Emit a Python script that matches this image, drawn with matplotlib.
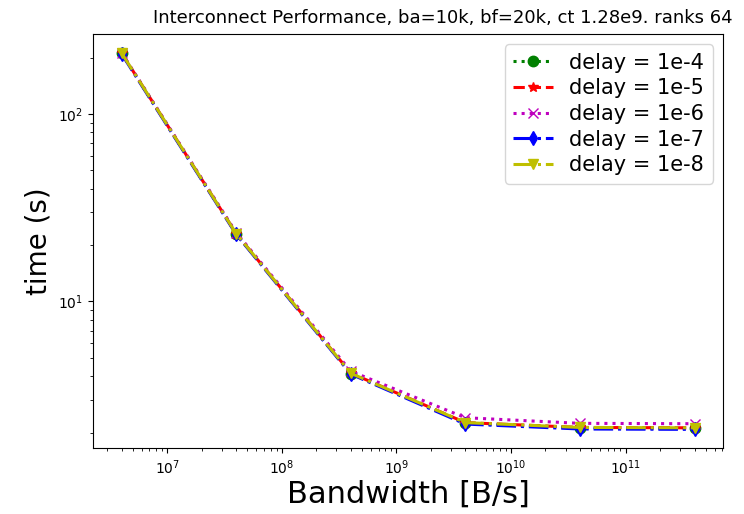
import matplotlib
matplotlib.use("Agg")
import matplotlib.pyplot as plt

bandwidth = [4e6, 4e7, 4e8, 4e9, 4e10, 4e11]

delays = ["1e-4", "1e-5", "1e-6", "1e-7", "1e-8"]
t_1e4 = [211, 23.0, 4.13, 2.25, 2.12, 2.11]
t_1e5 = [211, 23.0, 4.15, 2.26, 2.13, 2.12]
t_1e6 = [212, 23.3, 4.25, 2.40, 2.24, 2.23]
t_1e7 = [209, 22.8, 4.10, 2.22, 2.09, 2.08]
t_1e8 = [211, 23.0, 4.14, 2.26, 2.13, 2.12]
times = [t_1e4, t_1e5, t_1e6, t_1e7, t_1e8]

styles = ["g:o", "r--*", "m:x", "b-.d", "y-.v"]

fig = plt.figure(figsize=(7.44, 5.14), dpi=100)
ax = fig.add_subplot(111)

for d, t, st in zip(delays, times, styles):
    ax.plot(bandwidth, t, st, lw=2.2, ms=7.5, label="delay = " + d)

ax.set_xscale("log")
ax.set_yscale("log")
ax.set_xlabel("Bandwidth [B/s]", fontsize=22, labelpad=2)
ax.set_ylabel("time (s)", fontsize=20)
ax.set_title("Interconnect Performance, ba=10k, bf=20k, ct 1.28e9. ranks 64",
             fontsize=13, x=0.555, pad=8)
ax.legend(loc="upper right", fontsize=15, labelspacing=0.27, borderpad=0.4,
          handlelength=1.9)

fig.subplots_adjust(left=0.125, right=0.972, top=0.934, bottom=0.128)
fig.savefig("out.png", dpi=100)
